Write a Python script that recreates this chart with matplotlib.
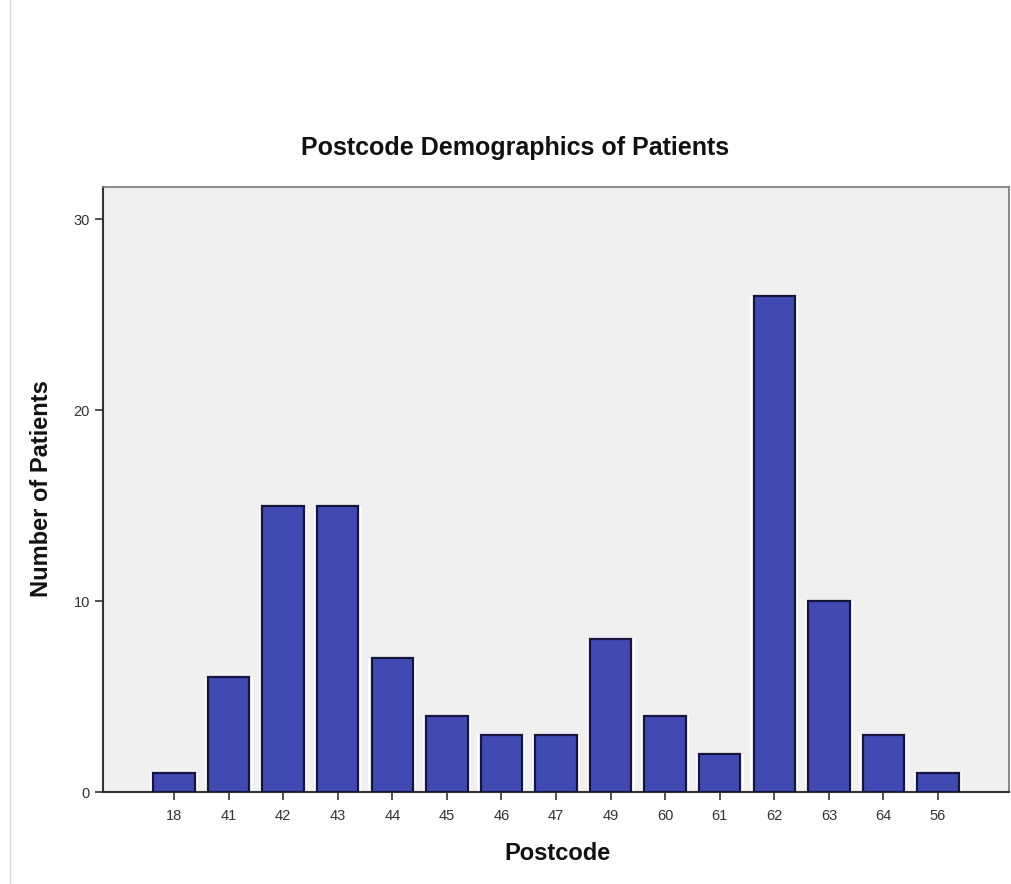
import matplotlib
matplotlib.use("Agg")
import matplotlib.pyplot as plt
from matplotlib.lines import Line2D

postcodes = ["18", "41", "42", "43", "44", "45", "46", "47", "49", "60", "61", "62", "63", "64", "56"]
patients = [1, 6, 15, 15, 7, 4, 3, 3, 8, 4, 2, 26, 10, 3, 1]
yticks = [0, 10, 20, 30]

plt.rcParams['font.family'] = ['Liberation Sans', 'DejaVu Sans']

fig = plt.figure(figsize=(10.12, 8.84), dpi=100)
fig.patch.set_facecolor("white")
ax = fig.add_axes([103/1012, (884-792)/884, (1009-103)/1012, (792-187)/884])
ax.set_facecolor("#f0f0f0")

x = list(range(len(postcodes)))
# soft white glow behind bars
ax.bar(x, patients, width=0.88, color="white", edgecolor="none", zorder=2, alpha=0.9)
ax.bar(x, patients, width=0.76, color="#4149b3", edgecolor="#15153d", linewidth=1.6, zorder=3)

ax.set_xlim(-1.30, 15.30)
ax.set_ylim(0, 31.7)
ax.set_xticks(x)
ax.set_xticklabels(postcodes)
ax.set_yticks(yticks)
ax.tick_params(axis="both", colors="#333333", labelsize=10.5, length=6, width=1.2)
ax.tick_params(axis="x", pad=6)
for lbl in ax.get_xticklabels() + ax.get_yticklabels():
    lbl.set_color("#333333")

for side in ["top", "right"]:
    ax.spines[side].set_color("#777777")
    ax.spines[side].set_linewidth(1.2)
for side in ["left", "bottom"]:
    ax.spines[side].set_color("#333333")
    ax.spines[side].set_linewidth(1.5)

fig.text(557/1012, (884-853)/884, "Postcode", fontsize=17, fontweight="bold",
         color="#111111", ha="center", va="center")
fig.text(42/1012, (884-489)/884, "Number of Patients", fontsize=17, fontweight="bold",
         color="#111111", ha="center", va="center", rotation=90)

fig.text(515/1012, (884-148)/884, "Postcode Demographics of Patients", fontsize=18,
         fontweight="bold", color="#111111", ha="center", va="center")

# faint left border of the original window
fig.add_artist(Line2D([10/1012, 10/1012], [0.0, 1.0], color="#d8d8d8", linewidth=1.0))

fig.savefig("out.png", dpi=100)
